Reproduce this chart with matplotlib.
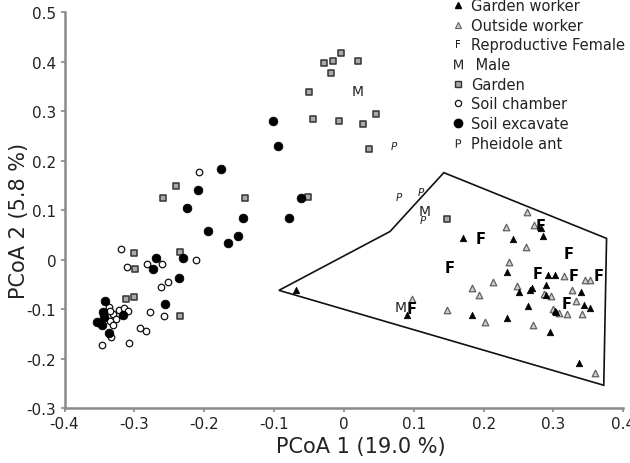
import matplotlib
matplotlib.use("Agg")
import matplotlib.pyplot as plt
from matplotlib.lines import Line2D
from matplotlib.patches import Polygon

plt.rcParams['font.family'] = ['DejaVu Sans']
plt.rcParams['axes.unicode_minus'] = False

# ---- data ----
soil_chamber_x = [-0.319, -0.310, -0.282, -0.260, -0.212, -0.252, -0.262, -0.277, -0.258, -0.292,
                  -0.284, -0.307, -0.347, -0.337, -0.322, -0.315, -0.309, -0.330, -0.326, -0.335,
                  -0.330, -0.333, -0.208, -0.335]
soil_chamber_y = [0.021, -0.014, -0.008, -0.008, 0.000, -0.045, -0.055, -0.105, -0.114, -0.139,
                  -0.145, -0.169, -0.173, -0.096, -0.101, -0.098, -0.103, -0.110, -0.120, -0.125,
                  -0.132, -0.157, 0.177, -0.104]

soil_excavate_x = [-0.101, -0.095, -0.176, -0.209, -0.224, -0.144, -0.079, -0.062, -0.194, -0.166,
                   -0.152, -0.269, -0.273, -0.230, -0.236, -0.256, -0.342, -0.345, -0.344, -0.354,
                   -0.347, -0.337, -0.316]
soil_excavate_y = [0.281, 0.230, 0.183, 0.141, 0.104, 0.085, 0.085, 0.125, 0.057, 0.034,
                   0.047, 0.003, -0.018, 0.004, -0.037, -0.090, -0.083, -0.105, -0.115, -0.127,
                   -0.132, -0.148, -0.112]

garden_x = [-0.004, -0.015, -0.028, 0.020, -0.019, -0.050, -0.044, -0.007, 0.027, 0.046, 0.036,
            -0.240, -0.259, -0.142, -0.051, 0.147,
            -0.301, -0.299, -0.235, -0.312, -0.300, -0.235]
garden_y = [0.418, 0.402, 0.397, 0.402, 0.377, 0.339, 0.285, 0.281, 0.275, 0.294, 0.223,
            0.149, 0.124, 0.124, 0.126, 0.083,
            0.013, -0.019, 0.016, -0.079, -0.075, -0.113]

garden_worker_x = [-0.068, 0.090, 0.170, 0.242, 0.282, 0.285, 0.233, 0.292, 0.302, 0.269, 0.267, 0.250,
                   0.289, 0.290, 0.339, 0.264, 0.343, 0.352, 0.302, 0.304, 0.183, 0.233, 0.295, 0.336]
garden_worker_y = [-0.062, -0.112, 0.043, 0.041, 0.064, 0.047, -0.024, -0.030, -0.030, -0.057, -0.061, -0.066,
                   -0.051, -0.071, -0.066, -0.093, -0.091, -0.098, -0.103, -0.106, -0.112, -0.117, -0.146, -0.208]

outside_worker_x = [0.098, 0.262, 0.232, 0.272, 0.260, 0.237, 0.214, 0.183, 0.194, 0.147, 0.202, 0.248, 0.271,
                    0.315, 0.345, 0.352, 0.326, 0.287, 0.296, 0.332, 0.299, 0.308, 0.319, 0.341, 0.359]
outside_worker_y = [-0.080, 0.097, 0.066, 0.070, 0.025, -0.004, -0.045, -0.057, -0.072, -0.102, -0.127, -0.053, -0.132,
                    -0.034, -0.041, -0.041, -0.061, -0.069, -0.074, -0.083, -0.099, -0.108, -0.110, -0.110, -0.230]

female_x = [0.195, 0.152, 0.282, 0.321, 0.277, 0.329, 0.365, 0.319, 0.097]
female_y = [0.043, -0.015, 0.070, 0.012, -0.027, -0.032, -0.032, -0.088, -0.098]

male_x = [0.020, 0.116, 0.081]
male_y = [0.341, 0.098, -0.095]

pheidole_x = [0.078, 0.110, 0.113, 0.072]
pheidole_y = [0.126, 0.137, 0.081, 0.229]

hull_x = [-0.093, 0.066, 0.143, 0.376, 0.372]
hull_y = [-0.062, 0.057, 0.176, 0.043, -0.254]

x_ticks = [-0.4, -0.3, -0.2, -0.1, 0, 0.1, 0.2, 0.3, 0.4]
y_ticks = [-0.3, -0.2, -0.1, 0, 0.1, 0.2, 0.3, 0.4, 0.5]

# ---- figure ----
fig = plt.figure(figsize=(6.3, 4.64), dpi=100)
ax = fig.add_axes([0.1024, 0.1185, 0.887, 0.8525])

ax.add_patch(Polygon(list(zip(hull_x, hull_y)), closed=True, fill=False,
                     edgecolor='#111111', linewidth=1.2, zorder=1))

ax.scatter(garden_x, garden_y, marker='s', s=20, facecolor='#a9a9a9',
           edgecolor='#333333', linewidth=1.1, zorder=3)
ax.scatter(soil_chamber_x, soil_chamber_y, marker='o', s=22, facecolor='white',
           edgecolor='#111111', linewidth=0.9, zorder=3)
ax.scatter(soil_excavate_x, soil_excavate_y, marker='o', s=40, facecolor='black',
           edgecolor='black', linewidth=0.5, zorder=4)
ax.scatter(outside_worker_x, outside_worker_y, marker='^', s=22, facecolor='#d0d0d0',
           edgecolor='#606060', linewidth=0.9, zorder=3)
ax.scatter(garden_worker_x, garden_worker_y, marker='^', s=22, facecolor='black',
           edgecolor='black', linewidth=0.5, zorder=4)

for x, y in zip(female_x, female_y):
    ax.text(x, y, 'F', fontsize=10.5, fontweight='bold', ha='center', va='center', zorder=5)
for x, y in zip(male_x, male_y):
    ax.text(x, y, 'M', fontsize=10, ha='center', va='center', color='#222222', zorder=5)
for x, y in zip(pheidole_x, pheidole_y):
    ax.text(x, y, 'P', fontsize=7.5, style='italic', ha='center', va='center', color='#222222', zorder=5)

ax.set_xlim(-0.4, 0.4)
ax.set_ylim(-0.3, 0.5)
ax.set_xticks(x_ticks)
ax.set_yticks(y_ticks)
ax.set_xticklabels([f"{v:g}" for v in x_ticks])
ax.set_yticklabels([f"{v:g}" for v in y_ticks])

for side in ['top', 'right']:
    ax.spines[side].set_visible(False)
for side in ['left', 'bottom']:
    ax.spines[side].set_color('#8a8a8a')
    ax.spines[side].set_linewidth(1.8)
ax.tick_params(axis='both', colors='#8a8a8a', labelcolor='#222222', labelsize=11,
               length=3, width=1.2, direction='out')
ax.tick_params(axis='x', pad=3)
ax.tick_params(axis='y', pad=3)

ax.set_xlabel('PCoA 1 (19.0 %)', fontsize=15, color='#222222')
ax.xaxis.set_label_coords(0.531, -0.072)
ax.set_ylabel('PCoA 2 (5.8 %)', fontsize=15, color='#222222')
ax.yaxis.set_label_coords(-0.063, 0.475)

handles = [
    Line2D([], [], linestyle='none', marker='^', markersize=5, markerfacecolor='black', markeredgecolor='black'),
    Line2D([], [], linestyle='none', marker='^', markersize=5, markerfacecolor='#d0d0d0', markeredgecolor='#606060', markeredgewidth=0.8),
    Line2D([], [], linestyle='none', marker=r'$\mathsf{F}$', markersize=6, color='#222222', markeredgewidth=0),
    Line2D([], [], linestyle='none', marker=r'$\mathsf{M}$', markersize=7, color='#222222', markeredgewidth=0),
    Line2D([], [], linestyle='none', marker='s', markersize=4.5, markerfacecolor='#a9a9a9', markeredgecolor='#333333', markeredgewidth=1.0),
    Line2D([], [], linestyle='none', marker='o', markersize=4.5, markerfacecolor='white', markeredgecolor='#111111', markeredgewidth=0.9),
    Line2D([], [], linestyle='none', marker='o', markersize=6, markerfacecolor='black', markeredgecolor='black'),
    Line2D([], [], linestyle='none', marker=r'$\mathsf{P}$', markersize=6, color='#222222', markeredgewidth=0),
]
labels = ['Garden worker', 'Outside worker', 'Reproductive Female', ' Male', 'Garden',
          'Soil chamber', 'Soil excavate', 'Pheidole ant']
fig.legend(handles, labels, loc='upper left', bbox_to_anchor=(451.0 / 630, 1.0 + 1.0 / 464),
           frameon=False, fontsize=10.5, handlelength=1.0, handletextpad=0.4,
           labelspacing=0.32, borderpad=0.0, borderaxespad=0.0, labelcolor='#222222')

fig.savefig('out.png', dpi=100)
